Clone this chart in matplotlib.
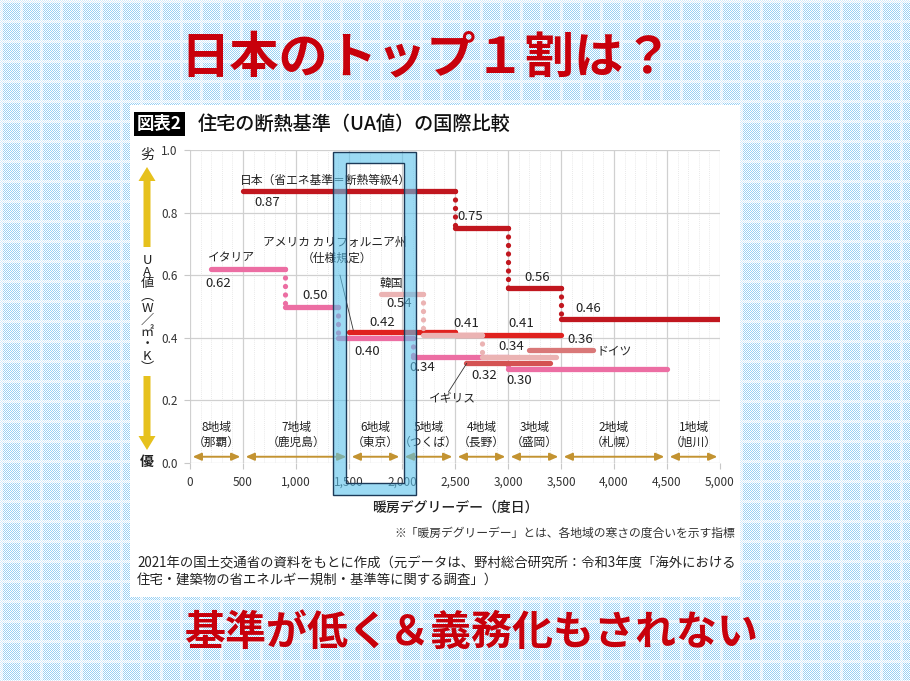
import numpy as np
import matplotlib.pyplot as plt
import matplotlib.patches as mpatches
from matplotlib.transforms import IdentityTransform
from matplotlib.ticker import MultipleLocator, FuncFormatter

plt.rcParams['font.family'] = ['Noto Sans CJK JP', 'DejaVu Sans']

W, H = 910, 681

# UA values per country: zone edges (heating degree days) and step values
japan_edges = [500, 2500, 3000, 3500, 5000]
japan_ua = [0.87, 0.75, 0.56, 0.46]
italy_edges = [200, 900, 1400, 2100, 3000, 4500]
italy_ua = [0.62, 0.50, 0.40, 0.34, 0.30]
usa_edges = [1500, 2500, 3500]
usa_ua = [0.42, 0.41]
korea_edges = [1800, 2200, 2750, 3450]
korea_ua = [0.54, 0.41, 0.34]
uk_edges = [2600, 3400]
uk_ua = [0.32]
germany_edges = [3200, 3800]
germany_ua = [0.36]

zone_edges = [0, 500, 1500, 2000, 2500, 3000, 3500, 4500, 5000]
zone_names = ['8地域', '7地域', '6地域', '5地域', '4地域', '3地域', '2地域', '1地域']
zone_cities = ['（那覇）', '（鹿児島）', '（東京）', '（つくば）',
               '（長野）', '（盛岡）', '（札幌）', '（旭川）']

c_japan = '#c1171f'
c_usa = '#e0221f'
c_italy = '#ec6ea3'
c_korea = '#ebb3b3'
c_uk = '#d45252'
c_germany = '#d97878'


def fx(x):
    return x / W


def fy(y):
    return 1 - y / H


def steps(ax, edges, vals, color, z):
    for k, v in enumerate(vals):
        ax.plot([edges[k], edges[k + 1]], [v, v], color=color, lw=3.8,
                solid_capstyle='round', zorder=z)
        if k > 0:
            ax.plot([edges[k], edges[k]], [vals[k - 1], v], color=color,
                    lw=3.8, ls=(0, (0.01, 1.6)), dash_capstyle='round',
                    zorder=z)


fig = plt.figure(figsize=(W / 100, H / 100), dpi=100)

# checkered background
i, j = np.mgrid[0:H, 0:W]
dots = (i + j) % 2 == 0
band = ((i % 20) < 3) | ((j % 20) < 3)
bg = np.ones((H, W, 3))
bg[dots & ~band] = (0.60, 0.82, 0.96)
bg[dots & band] = (0.84, 0.92, 0.98)
fig.figimage(bg, xo=0, yo=0, origin='upper', zorder=-2)

panel = mpatches.Rectangle((130, H - 597), 610, 492, facecolor='white',
                           edgecolor='none', transform=IdentityTransform(),
                           zorder=-1)
fig.add_artist(panel)

ax = fig.add_axes([fx(190), fy(463), 530 / W, 313 / H])
ax.set_facecolor('none')
ax.set_xlim(0, 5000)
ax.set_ylim(0, 1.0)
for s in ax.spines.values():
    s.set_visible(False)
ax.xaxis.set_major_locator(MultipleLocator(500))
ax.xaxis.set_minor_locator(MultipleLocator(100))
ax.yaxis.set_major_locator(MultipleLocator(0.2))
ax.xaxis.set_major_formatter(FuncFormatter(lambda v, p: f'{int(v):,}'))
ax.yaxis.set_major_formatter(FuncFormatter(lambda v, p: f'{v:.1f}'))
ax.grid(which='major', color='#d0d0d0', lw=0.9)
ax.grid(which='minor', axis='x', color='#e2e2e2', lw=0.6, ls=(0, (1, 1.5)))
ax.set_axisbelow(True)
ax.tick_params(which='minor', length=0)
ax.tick_params(which='major', length=4, color='#c8c8c8', labelsize=8.5,
               labelcolor='#333333', pad=5)

steps(ax, italy_edges, italy_ua, c_italy, 3)
steps(ax, usa_edges, usa_ua, c_usa, 4)
steps(ax, korea_edges, korea_ua, c_korea, 5)
steps(ax, uk_edges, uk_ua, c_uk, 4)
steps(ax, germany_edges, germany_ua, c_germany, 4)
steps(ax, japan_edges, japan_ua, c_japan, 6)

# value labels
vlabels = [
    ('0.87', 726, 0.831), ('0.75', 2642, 0.786), ('0.56', 3274, 0.594),
    ('0.46', 3755, 0.495), ('0.62', 264, 0.575), ('0.50', 1179, 0.534),
    ('0.40', 1670, 0.355), ('0.42', 1811, 0.450), ('0.54', 1972, 0.508),
    ('0.41', 2604, 0.447), ('0.41', 3123, 0.447), ('0.34', 2189, 0.304),
    ('0.34', 3028, 0.371), ('0.32', 2774, 0.281), ('0.30', 3104, 0.265),
    ('0.36', 3679, 0.393),
]
for t, x, y in vlabels:
    ax.text(x, y, t, ha='center', va='center', fontsize=9.5, color='#222222',
            zorder=8)

ax.text(472, 0.904, '日本（省エネ基準＝断熱等級4）', va='center', fontsize=8.5,
        color='#222222')
ax.text(170, 0.655, 'イタリア', va='center', fontsize=8.5, color='#222222')
ax.text(1368, 0.706, 'アメリカ カリフォルニア州', ha='center', va='center',
        fontsize=8.5, color='#222222')
ax.text(1387, 0.655, '（仕様規定）', ha='center', va='center', fontsize=8.5,
        color='#222222')
ax.text(1792, 0.575, '韓国', va='center', fontsize=8.5, color='#222222')
ax.text(3830, 0.358, 'ドイツ', va='center', fontsize=8.5, color='#222222')
ax.text(2476, 0.208, 'イギリス', ha='center', va='center', fontsize=8.5,
        color='#222222')
ax.plot([1415, 1540], [0.600, 0.425], color='#333333', lw=0.6, zorder=7)
ax.plot([2440, 2610], [0.228, 0.318], color='#333333', lw=0.6, zorder=7)

# climate zones
for k in range(len(zone_names)):
    a, b = zone_edges[k], zone_edges[k + 1]
    ax.annotate('', xy=(b - 25, 0.02), xytext=(a + 25, 0.02),
                arrowprops=dict(arrowstyle='<|-|>,head_length=0.5,head_width=0.22',
                                color='#c39331', lw=1.4, shrinkA=0, shrinkB=0))
    ax.text((a + b) / 2, 0.112, zone_names[k], ha='center', va='center',
            fontsize=8.5, color='#222222')
    ax.text((a + b) / 2, 0.067, zone_cities[k], ha='center', va='center',
            fontsize=8.5, color='#222222')

# y axis label with arrows
fig.text(fx(147), fy(155), '劣', ha='center', va='center', fontsize=10,
         color='#222222')
fig.text(fx(147), fy(462), '優', ha='center', va='center', fontsize=10,
         fontweight='bold', color='#222222')
fig.text(fx(147), fy(314), '\n'.join('UA値︵W／㎡・K︶'), ha='center',
         va='center', fontsize=9.5, linespacing=0.9, color='#222222')
yellow = '#e6c11d'
for y0, y1 in [(247, 167), (376, 450)]:
    fig.add_artist(mpatches.FancyArrow(147, H - y0, 0, y0 - y1, width=7,
                                       head_width=17, head_length=14,
                                       length_includes_head=True,
                                       color=yellow, lw=0,
                                       transform=IdentityTransform()))

ax.set_xlabel('暖房デグリーデー（度日）', fontsize=10, fontweight='medium',
              color='#222222', labelpad=9)
fig.text(fx(735), fy(533), '※「暖房デグリーデー」とは、各地域の寒さの度合いを示す指標',
         ha='right', va='center', fontsize=8.5, color='#333333')
fig.text(fx(137), fy(572),
         '2021年の国土交通省の資料をもとに作成（元データは、野村総合研究所：令和3年度「海外における\n'
         '住宅・建築物の省エネルギー規制・基準等に関する調査」）',
         ha='left', va='center', fontsize=9.6, color='#222222', linespacing=1.3)

# chart title
fig.text(fx(137), fy(124), '図表2', ha='left', va='center', fontsize=12.5,
         fontweight='bold', color='white',
         bbox=dict(facecolor='black', edgecolor='none', pad=2.5))
fig.text(fx(198), fy(124), '住宅の断熱基準（UA値）の国際比較', ha='left',
         va='center', fontsize=13.8, fontweight='medium', color='#111111')

# highlight frame around zone 6
fill = dict(facecolor='#5bc2ec', edgecolor='none', alpha=0.6,
            transform=IdentityTransform(), zorder=5)
for x0, y0, x1, y1 in [(333, 152, 346, 495), (404, 152, 416, 495),
                       (346, 152, 404, 163), (346, 483, 404, 495)]:
    fig.add_artist(mpatches.Rectangle((x0, H - y1), x1 - x0, y1 - y0, **fill))
for x0, y0, x1, y1 in [(333, 152, 416, 495), (346, 163, 404, 483)]:
    fig.add_artist(mpatches.Rectangle((x0, H - y1), x1 - x0, y1 - y0,
                                      fill=False, edgecolor='#1c3a58', lw=1.0,
                                      transform=IdentityTransform(), zorder=6))

# big headlines
fig.text(fx(427), fy(58), '日本のトップ１割は？', ha='center', va='center',
         fontsize=35.5, fontweight='bold', color='#c8000b')
fig.text(fx(471), fy(633), '基準が低く＆義務化もされない', ha='center',
         va='center', fontsize=29.5, fontweight='bold', color='#c8000b')

fig.savefig('out.png', dpi=100)
